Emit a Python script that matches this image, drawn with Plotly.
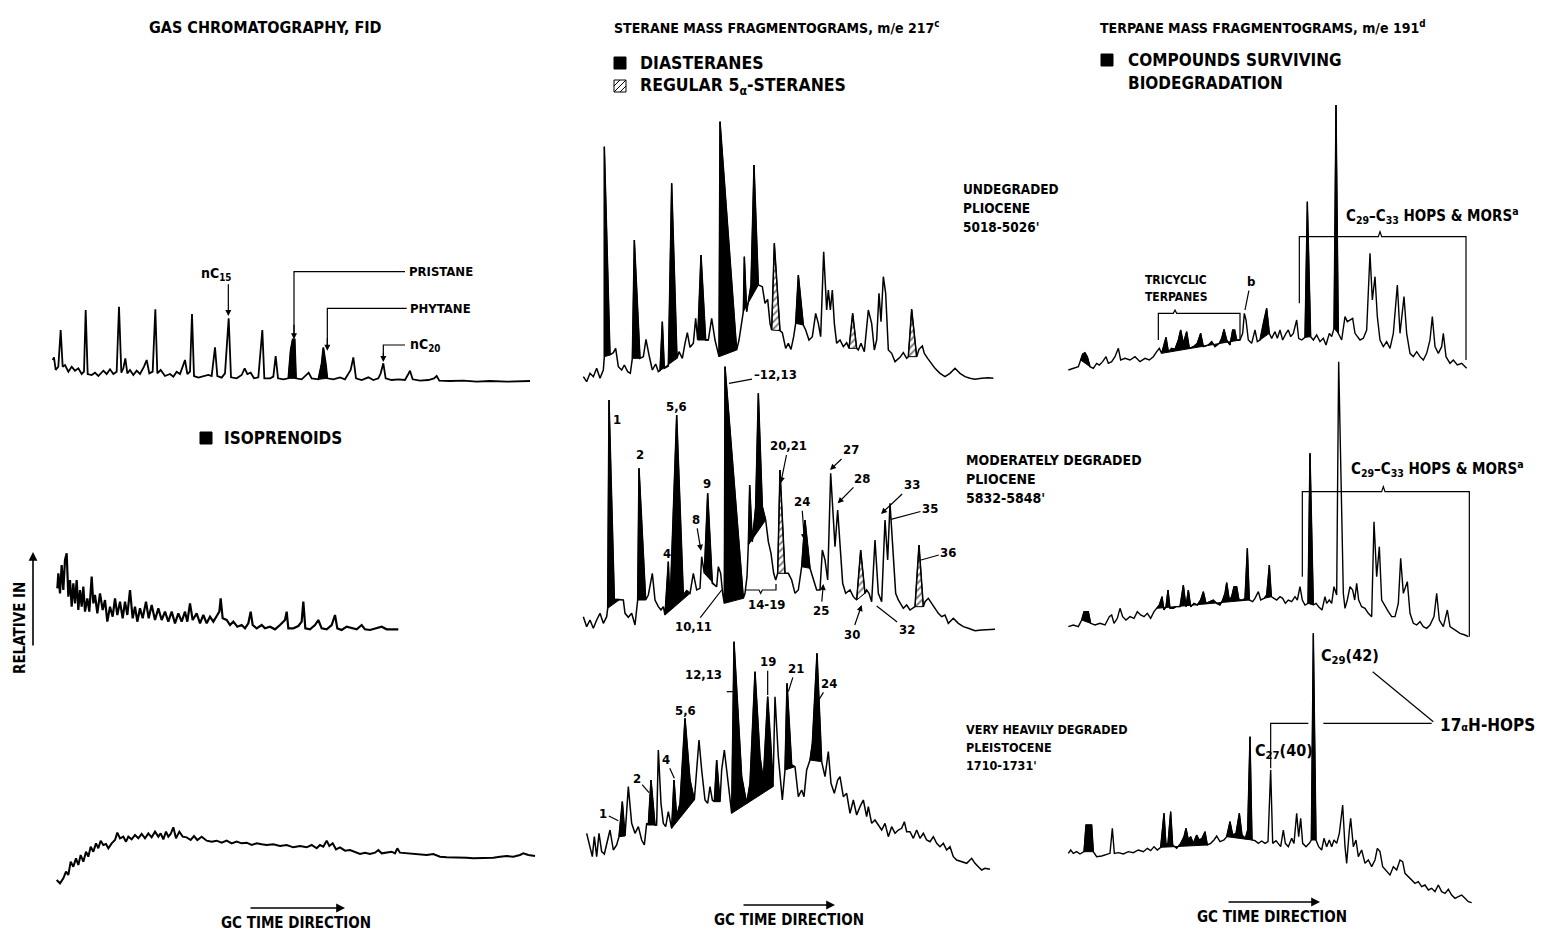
import plotly.graph_objects as go

FIG_W, FIG_H = 1557, 933
FONT = "Liberation Sans Narrow, DejaVu Sans Condensed, Arial Narrow, Roboto, sans-serif"
INK = "black"

# ---------------------------------------------------------------------------
# Gas chromatography, FID  -- (retention time, detector response)
# ---------------------------------------------------------------------------
gc_undegraded = [
    (38, 90), (42, 98), (47, 60), (55, 70), (62, 180), (68, 70), (75, 75), (85, 55), (95, 70), (105, 58),
    (115, 65), (125, 48), (132, 55), (137, 240), (143, 48), (155, 45), (165, 52), (175, 42), (190, 58), (200, 48),
    (210, 62), (220, 48), (230, 55), (237, 250), (244, 52), (250, 65), (256, 95), (262, 50), (270, 60), (280, 45),
    (290, 58), (300, 48), (312, 70), (320, 90), (328, 50), (338, 55), (346, 242), (352, 50), (362, 60), (375, 42),
    (390, 48), (400, 40), (410, 55), (420, 48), (428, 70), (435, 90), (442, 48), (450, 55), (456, 228), (462, 42),
    (475, 37), (490, 40), (505, 45), (515, 42), (525, 128), (532, 42), (545, 37), (555, 50), (566, 215), (573, 38),
    (590, 35), (605, 45), (614, 65), (622, 48), (632, 52), (642, 35), (655, 38), (667, 180), (673, 35), (690, 35),
    (700, 40), (707, 102), (714, 35), (730, 32), (745, 35), (752, 120), (758, 152), (764, 152), (768, 35), (785, 32),
    (800, 48), (806, 52), (815, 35), (835, 32), (845, 80), (850, 127), (858, 75), (862, 35), (880, 32), (900, 38),
    (915, 32), (932, 60), (940, 98), (948, 35), (965, 30), (985, 38), (1000, 30), (1015, 35), (1022, 50), (1030, 80),
    (1037, 35), (1055, 30), (1075, 32), (1095, 30), (1105, 48), (1110, 58), (1118, 32), (1140, 28), (1165, 30), (1182, 35),
    (1190, 42), (1198, 28), (1230, 27), (1270, 28), (1310, 25), (1350, 27), (1400, 25), (1470, 27),
]
gc_undegraded_isoprenoids = [(745, 768), (835, 862)]  # pristane, phytane

gc_moderate = [
    (52, 155), (55, 200), (60, 140), (65, 225), (70, 150), (75, 240), (80, 260), (85, 130), (90, 180), (95, 100),
    (100, 170), (105, 110), (110, 180), (115, 90), (120, 150), (125, 100), (130, 160), (135, 85), (142, 125), (148, 85),
    (155, 190), (160, 110), (165, 135), (172, 80), (180, 140), (188, 90), (195, 120), (202, 55), (210, 100), (218, 70),
    (225, 125), (232, 75), (240, 115), (248, 65), (255, 115), (262, 75), (270, 150), (278, 65), (285, 100), (292, 55),
    (300, 95), (308, 65), (318, 115), (326, 65), (335, 105), (345, 60), (355, 95), (365, 60), (375, 85), (385, 55),
    (395, 85), (405, 50), (415, 80), (425, 55), (435, 85), (442, 55), (450, 110), (458, 60), (470, 80), (480, 50),
    (490, 75), (500, 50), (510, 70), (520, 55), (532, 75), (538, 85), (542, 125), (548, 65), (560, 60), (570, 45),
    (580, 55), (592, 40), (605, 45), (615, 35), (625, 50), (632, 85), (638, 45), (650, 35), (665, 45), (675, 35),
    (690, 40), (705, 32), (720, 45), (735, 60), (740, 85), (745, 35), (760, 35), (775, 42), (785, 55), (790, 115),
    (796, 35), (810, 32), (825, 45), (835, 60), (845, 35), (860, 32), (875, 45), (885, 75), (892, 35), (905, 30),
    (920, 40), (935, 35), (950, 32), (965, 45), (975, 32), (990, 30), (1010, 35), (1025, 40), (1040, 32), (1075, 32),
]

gc_heavy = [
    (50, 150), (60, 140), (70, 155), (78, 175), (85, 165), (92, 205), (100, 190), (108, 215), (115, 195), (122, 225),
    (130, 205), (138, 235), (145, 220), (152, 250), (160, 235), (168, 260), (175, 245), (182, 268), (190, 255), (198, 258),
    (205, 245), (215, 260), (225, 270), (232, 292), (240, 275), (250, 280), (258, 265), (265, 280), (275, 272), (285, 285),
    (295, 275), (305, 288), (315, 275), (325, 290), (335, 278), (345, 295), (355, 280), (362, 290), (370, 272), (378, 295),
    (385, 280), (392, 288), (400, 308), (408, 275), (418, 295), (428, 280), (440, 278), (452, 270), (462, 282), (472, 270),
    (485, 280), (500, 268), (515, 265), (530, 268), (545, 262), (560, 268), (575, 260), (590, 265), (605, 260), (620, 262),
    (635, 255), (650, 260), (665, 257), (680, 255), (700, 257), (720, 252), (740, 255), (760, 248), (780, 252), (800, 248),
    (815, 255), (830, 245), (840, 255), (850, 250), (860, 268), (868, 252), (878, 260), (888, 242), (900, 248), (915, 238),
    (930, 240), (945, 235), (960, 228), (975, 232), (990, 228), (1005, 232), (1015, 240), (1025, 230), (1040, 232), (1055, 235),
    (1065, 230), (1072, 245), (1080, 232), (1100, 230), (1120, 228), (1140, 225), (1160, 225), (1180, 228), (1200, 220), (1220, 218),
    (1240, 218), (1260, 217), (1280, 217), (1300, 215), (1320, 215), (1340, 217), (1360, 217), (1380, 220), (1400, 222), (1420, 220),
    (1440, 225), (1450, 230), (1465, 225), (1485, 222),
]

# ---------------------------------------------------------------------------
# Sterane mass fragmentograms, m/e 217
# ---------------------------------------------------------------------------
sterane_undegraded = [
    (25, 40), (35, 25), (45, 50), (55, 40), (65, 65), (75, 35), (85, 60), (88, 100), (88, 730), (105, 105),
    (115, 112), (122, 125), (130, 70), (140, 60), (148, 75), (158, 55), (166, 50), (172, 95), (178, 450), (195, 95),
    (205, 100), (213, 152), (222, 105), (232, 60), (242, 78), (250, 55), (255, 58), (262, 205), (268, 65), (280, 72),
    (290, 620), (306, 95), (312, 115), (322, 95), (330, 140), (337, 172), (345, 128), (355, 140), (362, 215), (368, 150),
    (378, 405), (392, 150), (400, 150), (410, 215), (420, 150), (432, 100), (435, 805), (485, 120), (492, 150), (500, 200),
    (505, 235), (508, 400), (515, 235), (528, 315), (537, 675), (550, 315), (562, 310), (570, 260), (578, 272), (585, 200),
    (590, 180), (598, 440), (615, 178), (622, 172), (632, 125), (640, 140), (648, 122), (656, 160), (662, 200), (670, 345),
    (685, 195), (692, 180), (702, 150), (712, 160), (722, 230), (730, 200), (737, 160), (746, 415), (755, 240), (760, 300),
    (766, 240), (772, 300), (778, 200), (785, 140), (795, 150), (805, 130), (815, 142), (822, 125), (833, 230), (845, 125),
    (850, 120), (858, 140), (868, 115), (880, 240), (890, 200), (898, 120), (905, 150), (912, 290), (918, 205), (925, 340),
    (932, 290), (940, 120), (950, 110), (960, 85), (975, 98), (985, 112), (995, 95), (1000, 100), (1010, 242), (1025, 100),
    (1032, 122), (1042, 132), (1048, 110), (1058, 95), (1068, 82), (1080, 65), (1095, 50), (1110, 40), (1125, 50), (1140, 65),
    (1155, 50), (1170, 40), (1185, 35), (1200, 32), (1220, 35), (1240, 37), (1255, 35),
]
sterane_undegraded_dia = [(88, 105), (172, 195), (255, 306), (368, 400), (432, 485), (505, 550), (662, 685)]
sterane_undegraded_reg = [(590, 615), (822, 845), (1000, 1025)]

sterane_moderate = [
    (25, 70), (35, 40), (45, 60), (55, 35), (65, 60), (75, 80), (85, 50), (95, 70), (98, 95), (102, 720),
    (118, 122), (135, 122), (145, 120), (150, 80), (160, 68), (170, 80), (180, 45), (188, 120), (192, 515), (212, 120),
    (220, 135), (232, 200), (240, 120), (250, 100), (258, 90), (265, 100), (270, 75), (280, 235), (285, 100), (305, 675),
    (325, 135), (335, 148), (345, 140), (355, 200), (365, 150), (375, 155), (380, 250), (388, 200), (398, 440), (412, 170),
    (425, 160), (430, 220), (437, 200), (443, 140), (448, 110), (450, 820), (505, 125), (510, 140), (516, 190), (520, 285),
    (524, 465), (532, 295), (542, 400), (550, 740), (562, 400), (572, 360), (580, 295), (588, 260), (596, 200), (602, 180),
    (608, 200), (615, 510), (630, 200), (640, 200), (650, 180), (660, 140), (670, 150), (680, 220), (690, 360), (705, 215),
    (715, 180), (725, 150), (735, 150), (742, 270), (750, 240), (758, 180), (767, 500), (775, 370), (780, 280), (788, 390),
    (795, 280), (803, 170), (812, 140), (825, 150), (835, 130), (845, 120), (857, 270), (870, 140), (875, 150), (882, 140),
    (890, 115), (900, 300), (910, 140), (920, 115), (930, 360), (938, 240), (945, 410), (955, 260), (962, 140), (970, 120),
    (985, 95), (995, 105), (1005, 90), (1020, 100), (1032, 285), (1045, 100), (1050, 115), (1060, 125), (1070, 110), (1080, 95),
    (1090, 80), (1100, 70), (1110, 75), (1120, 50), (1135, 65), (1150, 50), (1165, 40), (1180, 35), (1200, 28), (1220, 30),
    (1245, 30), (1260, 32),
]
sterane_moderate_dia = [(98, 135), (188, 212), (270, 345), (388, 425), (448, 505), (520, 572), (680, 705)]
sterane_moderate_reg = [(608, 630), (845, 870), (1020, 1045)]

sterane_heavy = [
    (35, 290), (45, 250), (52, 220), (58, 280), (65, 220), (72, 290), (80, 235), (88, 228), (95, 260), (105, 300),
    (115, 240), (125, 255), (132, 280), (142, 385), (150, 282), (160, 430), (170, 320), (180, 290), (190, 310), (200, 270),
    (208, 255), (215, 320), (220, 315), (228, 450), (240, 315), (245, 315), (250, 540), (258, 380), (265, 320), (272, 310),
    (280, 355), (290, 305), (297, 450), (305, 340), (315, 380), (330, 635), (345, 450), (358, 390), (365, 480), (372, 570),
    (380, 480), (390, 390), (398, 380), (405, 430), (412, 390), (418, 385), (425, 510), (435, 385), (440, 480), (448, 540),
    (455, 480), (465, 400), (470, 350), (477, 865), (500, 460), (515, 380), (525, 440), (540, 775), (555, 520), (565, 450),
    (578, 700), (588, 550), (594, 430), (600, 700), (610, 520), (622, 390), (630, 480), (636, 740), (650, 495), (660, 490),
    (670, 400), (680, 420), (687, 400), (695, 480), (705, 510), (712, 560), (726, 830), (740, 505), (750, 460), (760, 535),
    (768, 440), (778, 410), (788, 450), (795, 460), (805, 400), (815, 410), (825, 350), (835, 390), (845, 345), (855, 370),
    (865, 390), (875, 340), (880, 370), (890, 320), (900, 330), (910, 315), (920, 300), (930, 320), (940, 280), (950, 310),
    (960, 290), (970, 300), (980, 305), (988, 325), (995, 295), (1005, 295), (1015, 275), (1025, 300), (1035, 275), (1045, 290),
    (1055, 270), (1065, 265), (1075, 280), (1085, 260), (1095, 250), (1105, 260), (1115, 240), (1125, 250), (1135, 220), (1145, 210),
    (1160, 205), (1175, 200), (1190, 215), (1200, 200), (1210, 190), (1220, 180), (1230, 185), (1245, 182),
]
sterane_heavy_dia = [(132, 150), (220, 245), (290, 358), (418, 435), (470, 594), (630, 660), (705, 740)]

# ---------------------------------------------------------------------------
# Terpane mass fragmentograms, m/e 191
# ---------------------------------------------------------------------------
terpane_undegraded = [
    (25, 30), (40, 35), (55, 40), (62, 60), (68, 78), (75, 82), (82, 70), (90, 40), (100, 35), (110, 50),
    (118, 45), (128, 55), (138, 70), (145, 50), (155, 55), (165, 70), (175, 95), (182, 60), (195, 65), (210, 60),
    (225, 70), (240, 55), (255, 65), (268, 60), (280, 70), (290, 85), (298, 95), (305, 80), (312, 110), (318, 128),
    (325, 85), (335, 95), (345, 92), (355, 120), (362, 150), (370, 110), (380, 145), (388, 95), (400, 100), (412, 110),
    (422, 140), (430, 100), (445, 105), (455, 115), (465, 100), (478, 110), (485, 125), (492, 152), (500, 120), (510, 105),
    (518, 150), (524, 150), (530, 120), (540, 120), (548, 140), (553, 200), (558, 180), (565, 120), (575, 110), (585, 150),
    (592, 115), (600, 120), (612, 180), (620, 215), (628, 140), (635, 125), (645, 145), (652, 125), (660, 150), (668, 120),
    (678, 140), (685, 150), (692, 130), (700, 140), (710, 180), (716, 125), (725, 120), (735, 128), (742, 535), (752, 130),
    (760, 120), (770, 135), (780, 115), (790, 125), (798, 105), (808, 140), (815, 130), (822, 155), (828, 825), (835, 140),
    (845, 120), (855, 190), (862, 175), (870, 180), (878, 185), (885, 140), (892, 130), (900, 120), (910, 125), (920, 150),
    (930, 380), (937, 240), (945, 310), (952, 190), (960, 120), (970, 100), (980, 115), (990, 95), (1000, 140), (1012, 285),
    (1020, 140), (1032, 250), (1040, 140), (1050, 80), (1060, 70), (1070, 85), (1080, 70), (1090, 60), (1100, 80), (1110, 120),
    (1117, 190), (1125, 100), (1135, 80), (1145, 100), (1150, 140), (1158, 70), (1170, 50), (1180, 60), (1192, 45), (1205, 50),
    (1220, 35),
]
terpane_undegraded_kept = [(62, 90), (305, 540), (600, 628), (735, 752), (822, 835)]

terpane_moderate = [
    (25, 40), (40, 45), (55, 40), (65, 60), (72, 85), (85, 85), (92, 50), (105, 45), (120, 50), (135, 45),
    (148, 70), (155, 75), (162, 50), (172, 65), (180, 95), (188, 70), (198, 60), (210, 70), (222, 65), (232, 85),
    (242, 75), (252, 70), (262, 80), (272, 65), (282, 85), (290, 95), (298, 105), (306, 130), (312, 90), (318, 100),
    (324, 150), (330, 95), (340, 95), (348, 100), (360, 100), (370, 165), (378, 100), (385, 150), (392, 100), (402, 110),
    (412, 105), (422, 120), (430, 145), (438, 110), (450, 115), (460, 120), (470, 110), (480, 105), (488, 120), (495, 140),
    (500, 172), (508, 120), (515, 130), (522, 160), (530, 160), (537, 120), (548, 120), (555, 125), (562, 275), (568, 120),
    (578, 115), (585, 125), (595, 145), (602, 120), (612, 125), (620, 135), (628, 225), (634, 130), (642, 125), (650, 120),
    (660, 130), (668, 125), (676, 110), (685, 120), (695, 115), (705, 130), (712, 120), (720, 160), (727, 120), (735, 105),
    (744, 110), (750, 560), (760, 105), (768, 110), (776, 100), (786, 90), (795, 130), (800, 110), (808, 120), (815, 110),
    (822, 160), (830, 135), (836, 835), (850, 140), (855, 95), (862, 120), (870, 160), (878, 150), (884, 120), (890, 170),
    (896, 120), (905, 100), (915, 95), (925, 80), (935, 70), (942, 355), (950, 190), (958, 280), (965, 120), (975, 100),
    (985, 85), (995, 70), (1005, 70), (1015, 110), (1022, 245), (1030, 140), (1042, 175), (1050, 80), (1060, 50), (1070, 45),
    (1080, 55), (1090, 40), (1100, 35), (1110, 45), (1122, 70), (1130, 140), (1138, 60), (1150, 40), (1162, 90), (1170, 40),
    (1185, 30), (1200, 20), (1215, 15), (1225, 10),
]
terpane_moderate_kept = [(65, 92), (290, 568), (612, 634), (744, 760)]

terpane_heavy = [
    (25, 230), (32, 240), (40, 230), (50, 235), (60, 228), (72, 235), (78, 315), (95, 315), (100, 235), (110, 220),
    (125, 222), (140, 228), (150, 230), (157, 305), (163, 230), (175, 232), (190, 228), (205, 235), (220, 232), (235, 240),
    (250, 235), (262, 245), (272, 238), (282, 250), (292, 240), (302, 248), (312, 350), (318, 255), (324, 260), (332, 355),
    (338, 255), (350, 245), (362, 260), (372, 280), (378, 305), (385, 270), (392, 280), (400, 260), (410, 285), (418, 270),
    (426, 275), (435, 295), (442, 255), (452, 260), (462, 270), (470, 282), (480, 265), (492, 270), (500, 280), (510, 325),
    (518, 285), (528, 290), (538, 350), (546, 285), (556, 275), (563, 300), (570, 580), (576, 270), (585, 268), (595, 260),
    (605, 267), (615, 260), (624, 265), (632, 480), (638, 260), (648, 268), (655, 260), (662, 250), (670, 300), (676, 260),
    (685, 250), (695, 275), (702, 260), (710, 350), (716, 280), (722, 335), (728, 260), (738, 250), (748, 260), (754, 270),
    (760, 890), (768, 270), (776, 250), (785, 240), (792, 275), (800, 250), (808, 270), (815, 250), (822, 270), (830, 260),
    (838, 290), (848, 375), (855, 250), (860, 200), (868, 300), (872, 335), (880, 250), (888, 270), (895, 220), (905, 240),
    (915, 200), (925, 210), (935, 190), (945, 210), (952, 245), (960, 235), (968, 190), (978, 180), (990, 165), (1000, 190),
    (1010, 180), (1020, 210), (1028, 205), (1035, 170), (1045, 160), (1055, 150), (1065, 140), (1075, 145), (1085, 130), (1095, 135),
    (1105, 120), (1115, 125), (1125, 115), (1135, 135), (1145, 115), (1155, 110), (1165, 122), (1175, 105), (1185, 95), (1195, 100),
    (1205, 105), (1215, 95), (1225, 85), (1235, 82),
]
terpane_heavy_kept = [(72, 100), (302, 442), (500, 576), (754, 768)]

# ---------------------------------------------------------------------------
# Panel layout: pixel box (left, top, width, height); axis units are 1/3 px
# ---------------------------------------------------------------------------
panels = [
    dict(pts=gc_undegraded, solid=gc_undegraded_isoprenoids, hatch=[], box=(40, 250, 500, 140), lw=1.8),
    dict(pts=gc_moderate, solid=[], hatch=[], box=(40, 540, 370, 100), lw=2.2),
    dict(pts=gc_heavy, solid=[], hatch=[], box=(40, 790, 500, 140), lw=2.0),
    dict(pts=sterane_undegraded, solid=sterane_undegraded_dia, hatch=sterane_undegraded_reg, box=(575, 110, 430, 280), lw=1.5),
    dict(pts=sterane_moderate, solid=sterane_moderate_dia, hatch=sterane_moderate_reg, box=(575, 360, 430, 280), lw=1.5),
    dict(pts=sterane_heavy, solid=sterane_heavy_dia, hatch=[], box=(575, 630, 430, 300), lw=1.5),
    dict(pts=terpane_undegraded, solid=terpane_undegraded_kept, hatch=[], box=(1060, 100, 420, 280), lw=1.4),
    dict(pts=terpane_moderate, solid=terpane_moderate_kept, hatch=[], box=(1060, 360, 420, 280), lw=1.4),
    dict(pts=terpane_heavy, solid=terpane_heavy_kept, hatch=[], box=(1060, 630, 480, 300), lw=1.4),
]


def sfx(n):
    return "" if n == 1 else str(n)


def window(pts, a, b):
    seg = [p for p in pts if a <= p[0] <= b]
    return [p[0] for p in seg] + [seg[0][0]], [p[1] for p in seg] + [seg[0][1]]


fig = go.Figure()
axes = {}
for n, p in enumerate(panels, 1):
    x0, y0, w, h = p["box"]
    xa, ya = "x" + sfx(n), "y" + sfx(n)
    axes["xaxis" + sfx(n)] = dict(domain=[x0 / FIG_W, (x0 + w) / FIG_W], range=[0, 3 * w],
                                   visible=False, fixedrange=True, anchor=ya)
    axes["yaxis" + sfx(n)] = dict(domain=[1 - (y0 + h) / FIG_H, 1 - y0 / FIG_H], range=[0, 3 * h],
                                   visible=False, fixedrange=True, anchor=xa)
    for a, b in p["solid"]:
        xs, ys = window(p["pts"], a, b)
        fig.add_trace(go.Scatter(x=xs, y=ys, xaxis=xa, yaxis=ya, mode="lines", fill="toself",
                                 fillcolor=INK, line=dict(color=INK, width=1), hoverinfo="skip"))
    for a, b in p["hatch"]:
        xs, ys = window(p["pts"], a, b)
        fig.add_trace(go.Scatter(x=xs, y=ys, xaxis=xa, yaxis=ya, mode="lines", fill="toself",
                                 fillcolor="white",
                                 fillpattern=dict(shape="/", fgcolor=INK, bgcolor="white", size=5, solidity=0.4),
                                 line=dict(color=INK, width=1), hoverinfo="skip"))
    fig.add_trace(go.Scatter(x=[q[0] for q in p["pts"]], y=[q[1] for q in p["pts"]], xaxis=xa, yaxis=ya,
                             mode="lines", line=dict(color=INK, width=p["lw"]), hoverinfo="skip"))


def fnt(size):
    return dict(family=FONT, size=size, color=INK, weight="bold")


annotations = []
shapes = []
NUM = 13  # size of the peak-number labels


def ptext(n, x, y, text, size=NUM, anchor="center"):
    annotations.append(dict(xref="x" + sfx(n), yref="y" + sfx(n), x=x, y=y, text=text, showarrow=False,
                            xanchor=anchor, yanchor="middle", font=fnt(size)))


def parrow(n, x, y, ax, ay, text="", head=2, size=NUM):
    annotations.append(dict(xref="x" + sfx(n), yref="y" + sfx(n), axref="x" + sfx(n), ayref="y" + sfx(n),
                            x=x, y=y, ax=ax, ay=ay, text=text, showarrow=True, arrowhead=head,
                            arrowsize=1, arrowwidth=1.2, arrowcolor=INK, font=fnt(size)))


def ppath(n, path, width=1.2):
    shapes.append(dict(type="path", xref="x" + sfx(n), yref="y" + sfx(n), path=path,
                       line=dict(color=INK, width=width), fillcolor="rgba(0,0,0,0)"))


def px(x):
    return x / FIG_W


def py(y):
    return 1 - y / FIG_H


def ftext(x, y, text, size=15, anchor="left", angle=0):
    annotations.append(dict(xref="paper", yref="paper", x=px(x), y=py(y), text=text, showarrow=False,
                            xanchor=anchor, yanchor="middle", textangle=angle, font=fnt(size)))


def fbox(x0, y0, x1, y1, fill=INK):
    shapes.append(dict(type="rect", xref="paper", yref="paper", x0=px(x0), x1=px(x1), y0=py(y1), y1=py(y0),
                       line=dict(color=INK, width=1), fillcolor=fill))


def fline(x0, y0, x1, y1, width=1):
    shapes.append(dict(type="line", xref="paper", yref="paper", x0=px(x0), x1=px(x1), y0=py(y0), y1=py(y1),
                       line=dict(color=INK, width=width)))


def farrow(x_head, y_head, dx, dy=0):
    annotations.append(dict(xref="paper", yref="paper", x=px(x_head), y=py(y_head), ax=dx, ay=dy, text="",
                            showarrow=True, arrowhead=2, arrowsize=1.1, arrowwidth=1.6, arrowcolor=INK))


# ---- column headers and legends ----
ftext(265, 27, "GAS CHROMATOGRAPHY, FID", 16, "center")
ftext(612, 27, "STERANE MASS FRAGMENTOGRAMS, m/e 217<sup>c</sup>", 14)
ftext(1098, 27, "TERPANE MASS FRAGMENTOGRAMS, m/e 191<sup>d</sup>", 14)

fbox(614, 57, 626, 69)
ftext(638, 63, "DIASTERANES", 17.5)
fbox(614, 80, 626, 92, fill="white")
fline(614, 92, 626, 80)
fline(614, 86, 620, 80)
fline(620, 92, 626, 86)
ftext(638, 86, "REGULAR 5<sub>α</sub>-STERANES", 17.5)

fbox(1101, 54, 1113, 66)
ftext(1126, 60, "COMPOUNDS SURVIVING", 17)
ftext(1126, 83, "BIODEGRADATION", 17)

fbox(200, 432, 212, 444)
ftext(222, 438, "ISOPRENOIDS", 17)

# ---- sample descriptions ----
for y, t in [(189, "UNDEGRADED"), (208, "PLIOCENE"), (227, "5018-5026'")]:
    ftext(961, y, t, 13.5)
for y, t in [(460, "MODERATELY DEGRADED"), (479, "PLIOCENE"), (498, "5832-5848'")]:
    ftext(964, y, t, 14)
for y, t in [(729, "VERY HEAVILY DEGRADED"), (747, "PLEISTOCENE"), (765, "1710-1731'")]:
    ftext(964, y, t, 12.5)

# ---- intensity axis and time-direction arrows ----
ftext(20, 628, "RELATIVE IN", 15, "center", angle=-90)
farrow(33, 552, 0, 95)
farrow(345, 908, -96)
ftext(296, 923, "GC TIME DIRECTION", 15, "center")
farrow(835, 905, -93)
ftext(789, 920, "GC TIME DIRECTION", 15, "center")
farrow(1320, 902, -93)
ftext(1272, 917, "GC TIME DIRECTION", 15, "center")

# ---- GC (panel 1) peak labels ----
ptext(1, 528, 348, "nC<sub>15</sub>", 14)
parrow(1, 565, 222, 565, 322)
ppath(1, "M 762,160 L 762,355 L 1095,355")
parrow(1, 762, 152, 762, 200)
ptext(1, 1100, 355, "PRISTANE", 13, "left")
ppath(1, "M 862,125 L 862,245 L 1100,245")
parrow(1, 862, 118, 862, 160)
ptext(1, 1105, 245, "PHYTANE", 13, "left")
ppath(1, "M 1030,92 L 1030,135 L 1095,135")
parrow(1, 1030, 84, 1030, 115)
ptext(1, 1103, 135, "nC<sub>20</sub>", 14, "left")

# ---- sterane peak numbers (panel 5, moderately degraded) ----
ptext(5, 125, 660, "1")
ptext(5, 195, 555, "2")
ptext(5, 305, 700, "5,6")
ptext(5, 275, 260, "4")
parrow(5, 378, 268, 362, 362, "8")
ptext(5, 395, 468, "9")
parrow(5, 440, 150, 355, 40, "10,11", head=0)
parrow(5, 462, 770, 600, 795, "–12,13", head=0)
ppath(5, "M 510,150 L 552,150 L 557,140 L 562,150 L 603,150 L 603,168")
ptext(5, 575, 108, "14-19")
parrow(5, 617, 470, 640, 582, "20,21")
parrow(5, 688, 300, 680, 415, "24")
parrow(5, 745, 168, 738, 88, "25")
parrow(5, 765, 510, 828, 570, "27")
parrow(5, 788, 410, 862, 485, "28")
parrow(5, 918, 378, 1010, 465, "33")
parrow(5, 948, 362, 1065, 393, "35", head=0)
parrow(5, 1038, 240, 1120, 263, "36", head=0)
parrow(5, 860, 105, 830, 18, "30")
parrow(5, 905, 102, 995, 32, "32", head=0)

# ---- sterane peak numbers (panel 6, very heavily degraded) ----
parrow(6, 130, 328, 85, 350, "1", head=0)
parrow(6, 222, 412, 185, 455, "2", head=0)
parrow(6, 298, 455, 272, 512, "4", head=0)
ptext(6, 330, 660, "5,6")
ptext(6, 385, 768, "12,13")
ppath(6, "M 455,715 L 476,715")
parrow(6, 578, 705, 578, 805, "19", head=0)
parrow(6, 640, 715, 662, 785, "21", head=0)
parrow(6, 720, 672, 762, 740, "24", head=0)

# ---- terpane brackets and labels ----
HOPS = "C<sub>29</sub>–C<sub>33</sub> HOPS &amp; MORS<sup>a</sup>"
ppath(7, "M 718,230 L 718,430 L 955,430 L 960,445 L 965,430 L 1218,430 L 1218,60")
ptext(7, 853, 495, HOPS, 15, "left")
ppath(7, "M 295,120 L 295,200 L 340,200 L 345,210 L 350,200 L 540,200 L 540,120")
ptext(7, 348, 300, "TRICYCLIC", 12)
ptext(7, 348, 250, "TERPANES", 12)
parrow(7, 555, 210, 572, 295, "b", head=0, size=13)

ppath(8, "M 727,190 L 727,445 L 965,445 L 970,460 L 975,445 L 1228,445 L 1228,10")
ptext(8, 868, 515, HOPS, 15, "left")

ptext(9, 778, 820, "C<sub>29</sub>(42)", 16, "left")
ptext(9, 580, 535, "C<sub>27</sub>(40)", 16, "left")
ppath(9, "M 632,485 L 632,620 L 745,620")
ppath(9, "M 790,620 L 1115,620")
ppath(9, "M 938,775 L 1120,625")
ptext(9, 1135, 615, "17<span style='font-size:11px'>α</span>H-HOPS", 17, "left")

fig.update_layout(
    width=FIG_W, height=FIG_H, autosize=False,
    margin=dict(l=0, r=0, t=0, b=0),
    paper_bgcolor="white", plot_bgcolor="rgba(0,0,0,0)",
    showlegend=False,
    annotations=annotations, shapes=shapes,
    **axes,
)

fig.write_html("out.html")
